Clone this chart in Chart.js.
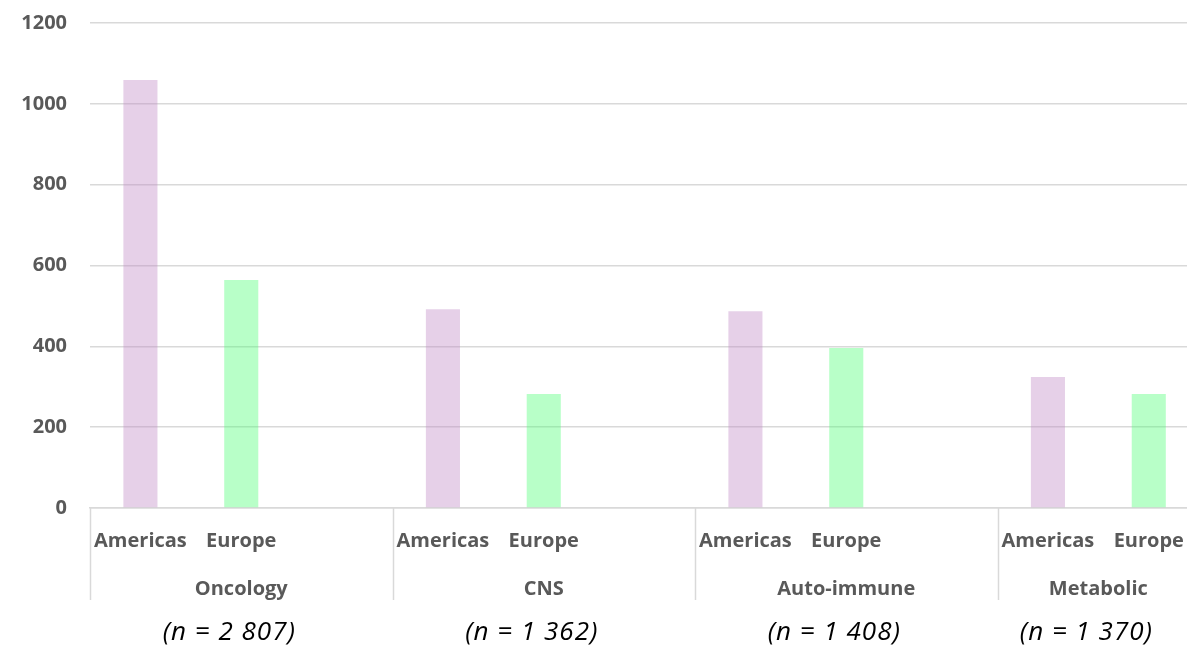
<!DOCTYPE html>
<html>
<head>
<meta charset="utf-8">
<script src="https://cdn.jsdelivr.net/npm/chart.js@4.4.1/dist/chart.umd.min.js"></script>
<style>
  html, body { margin: 0; padding: 0; background: #ffffff; overflow: hidden; width: 1187px; height: 645px; }
  #wrap { width: 1205px; height: 645px; }
</style>
</head>
<body>
<div id="wrap"><canvas id="c" width="1205" height="645"></canvas></div>
<script>
// ---- data ----
const groups = ['Oncology', 'CNS', 'Auto-immune', 'Metabolic'];
const seriesNames = ['Americas', 'Europe'];
const americas = [1059, 492, 487, 324];
const europe = [564, 282, 396, 282];
const nLabels = ['(n = 2 807)', '(n = 1 362)', '(n = 1 408)', '(n = 1 370)'];
const yTicks = [0, 200, 400, 600, 800, 1000, 1200];

// ---- build slot layout: each group = Americas, Europe, (gap) ----
const slotLabels = [];
const amData = [];
const euData = [];
const groupRanges = [];
groups.forEach((g, i) => {
  const start = slotLabels.length;
  slotLabels.push(seriesNames[0]); amData.push(americas[i]); euData.push(null);
  slotLabels.push(seriesNames[1]); amData.push(null); euData.push(europe[i]);
  let end = slotLabels.length - 1;
  if (i < groups.length - 1) {
    slotLabels.push(''); amData.push(null); euData.push(null);
    end = slotLabels.length - 1;
  }
  groupRanges.push([start, end]);
});

const labelGray = '#595959';
const gridGray = '#d9d9d9';
const tickFont = { family: 'Open Sans', size: 20, weight: 'bold' };

const groupPlugin = {
  id: 'groupLabels',
  afterDraw(chart) {
    const ctx = chart.ctx;
    const x = chart.scales.x;
    const area = chart.chartArea;
    const half = (x.getPixelForValue(1) - x.getPixelForValue(0)) / 2;
    ctx.save();
    // separators
    ctx.strokeStyle = gridGray;
    ctx.lineWidth = 1.5;
    groupRanges.forEach(([s, e]) => {
      const bx = x.getPixelForValue(s) - half;
      ctx.beginPath();
      ctx.moveTo(Math.round(bx) + 0.5, area.bottom);
      ctx.lineTo(Math.round(bx) + 0.5, area.bottom + 92);
      ctx.stroke();
    });
    // group labels
    ctx.textAlign = 'center';
    ctx.textBaseline = 'middle';
    groupRanges.forEach(([s, e], i) => {
      const left = x.getPixelForValue(s) - half;
      const right = x.getPixelForValue(e) + half;
      const cx = (left + right) / 2;
      ctx.fillStyle = labelGray;
      ctx.font = 'bold 20px "Open Sans"';
      ctx.letterSpacing = '0px';
      ctx.fillText(groups[i], cx, area.bottom + 81);
      ctx.fillStyle = '#000000';
      ctx.font = 'italic 26px "Open Sans"';
      ctx.letterSpacing = '1px';
      ctx.fillText(nLabels[i], cx - 12, area.bottom + 125);
    });
    ctx.restore();
  }
};

new Chart(document.getElementById('c'), {
  type: 'bar',
  data: {
    labels: slotLabels,
    datasets: [
      { label: seriesNames[0], data: amData, backgroundColor: 'rgba(193,138,198,0.4)', grouped: false,
        categoryPercentage: 1, barPercentage: 0.338 },
      { label: seriesNames[1], data: euData, backgroundColor: 'rgba(78,255,118,0.4)', grouped: false,
        categoryPercentage: 1, barPercentage: 0.338 }
    ]
  },
  options: {
    responsive: false,
    animation: false,
    layout: { padding: { top: 23, right: 2, left: 0, bottom: 0 } },
    plugins: { legend: { display: false }, tooltip: { enabled: false } },
    scales: {
      x: {
        grid: { display: false, drawTicks: false },
        border: { display: true, color: gridGray, width: 1.5 },
        ticks: { color: labelGray, font: tickFont, maxRotation: 0, autoSkip: false, padding: 21 },
        afterFit(scale) { scale.height = 137; }
      },
      y: {
        min: 0, max: 1200,
        afterBuildTicks(scale) { scale.ticks = yTicks.map(v => ({ value: v })); },
        grid: { color: gridGray, lineWidth: 1.5, drawTicks: true, tickLength: 23, tickColor: 'rgba(0,0,0,0)' },
        border: { display: false },
        ticks: { color: labelGray, font: tickFont, padding: 0, callback: v => String(v) },
        afterFit(scale) { scale.width = 90; }
      }
    }
  },
  plugins: [groupPlugin]
});
</script>
</body>
</html>
